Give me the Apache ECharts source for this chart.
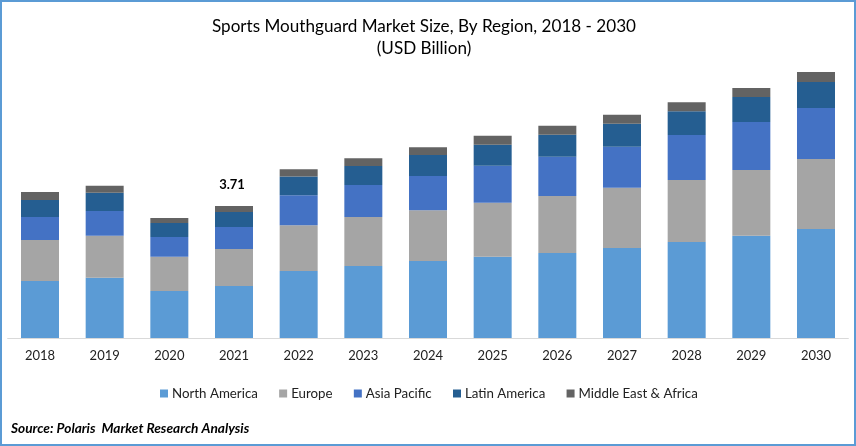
<!DOCTYPE html>
<html>
<head>
<meta charset="utf-8">
<title>Sports Mouthguard Market Size</title>
<script src="https://cdn.jsdelivr.net/npm/echarts@6/dist/echarts.min.js"></script>
<style>
html, body { margin: 0; padding: 0; background: #fff; }
#chart { width: 856px; height: 446px; }
</style>
</head>
<body>
<div id="chart"></div>
<script>
var years = ['2018', '2019', '2020', '2021', '2022', '2023', '2024', '2025', '2026', '2027', '2028', '2029', '2030'];
var northAmerica = [1.60, 1.69, 1.32, 1.46, 1.88, 2.02, 2.16, 2.28, 2.39, 2.53, 2.70, 2.87, 3.06];
var europe = [1.15, 1.18, 0.96, 1.04, 1.29, 1.38, 1.43, 1.52, 1.60, 1.69, 1.74, 1.85, 1.97];
var asiaPacific = [0.65, 0.70, 0.56, 0.62, 0.84, 0.90, 0.96, 1.04, 1.10, 1.15, 1.26, 1.35, 1.43];
var latinAmerica = [0.48, 0.51, 0.39, 0.42, 0.53, 0.53, 0.59, 0.59, 0.62, 0.65, 0.67, 0.70, 0.73];
var middleEast = [0.22, 0.20, 0.14, 0.17, 0.20, 0.22, 0.22, 0.25, 0.25, 0.25, 0.25, 0.25, 0.28];
var labelYear = '2021';
var labelText = '3.71';

var font = 'Lato, "Open Sans", sans-serif';

var makeSeries = function(name, list, color) {
	return {
		name: name,
		type: 'bar',
		stack: 'total',
		barWidth: 38,
		itemStyle: { color: color },
		data: list
	};
};

var series = [
	makeSeries('North America', northAmerica, '#5B9BD5'),
	makeSeries('Europe', europe, '#A5A5A5'),
	makeSeries('Asia Pacific', asiaPacific, '#4472C4'),
	makeSeries('Latin America', latinAmerica, '#255E91'),
	makeSeries('Middle East & Africa', middleEast, '#636363')
];

// only one bar carries a total in the picture
series[4].label = {
	show: true,
	position: 'top',
	distance: 15,
	offset: [-2, 0],
	fontFamily: font,
	fontSize: 13,
	fontWeight: 'bold',
	color: '#000',
	formatter: function(p) {
		return p.name == labelYear ? labelText : '';
	}
};

var chart = echarts.init(document.getElementById('chart'), null, { renderer: 'canvas' });
chart.setOption({
	animation: false,
	backgroundColor: '#fff',
	title: [{
		text: 'Sports Mouthguard Market Size, By Region, 2018 - 2030\n(USD Billion)',
		left: 419,
		top: 10,
		textAlign: 'center',
		textStyle: { fontFamily: font, fontSize: 17.1, fontWeight: 'normal', color: '#000', lineHeight: 22 }
	}, {
		text: 'Source: Polaris  Market Research Analysis',
		left: 11,
		top: 422,
		padding: 0,
		textStyle: { fontFamily: font, fontSize: 13.7, fontWeight: 'bold', fontStyle: 'italic', color: '#000' }
	}],
	legend: {
		left: 160,
		top: 387,
		padding: 0,
		itemWidth: 8,
		itemHeight: 8,
		itemGap: 21.3,
		icon: 'rect',
		textStyle: { fontFamily: font, fontSize: 13.3, color: '#222', padding: [0, 0, 0, -1] }
	},
	grid: { left: 7.67, right: 7.67, top: 39, bottom: 108 },
	xAxis: {
		type: 'category',
		data: years,
		axisTick: { show: false },
		axisLine: { lineStyle: { color: '#D9D9D9', width: 1 } },
		axisLabel: { fontFamily: font, fontSize: 13, color: '#222', margin: 11 }
	},
	yAxis: {
		type: 'value',
		min: 0,
		max: 8.4,
		show: false
	},
	series: series,
	graphic: [{
		type: 'rect',
		silent: true,
		shape: { x: 1, y: 1, width: 854, height: 444 },
		style: { fill: 'none', stroke: '#5B9BD5', lineWidth: 2 }
	}]
});
</script>
</body>
</html>
